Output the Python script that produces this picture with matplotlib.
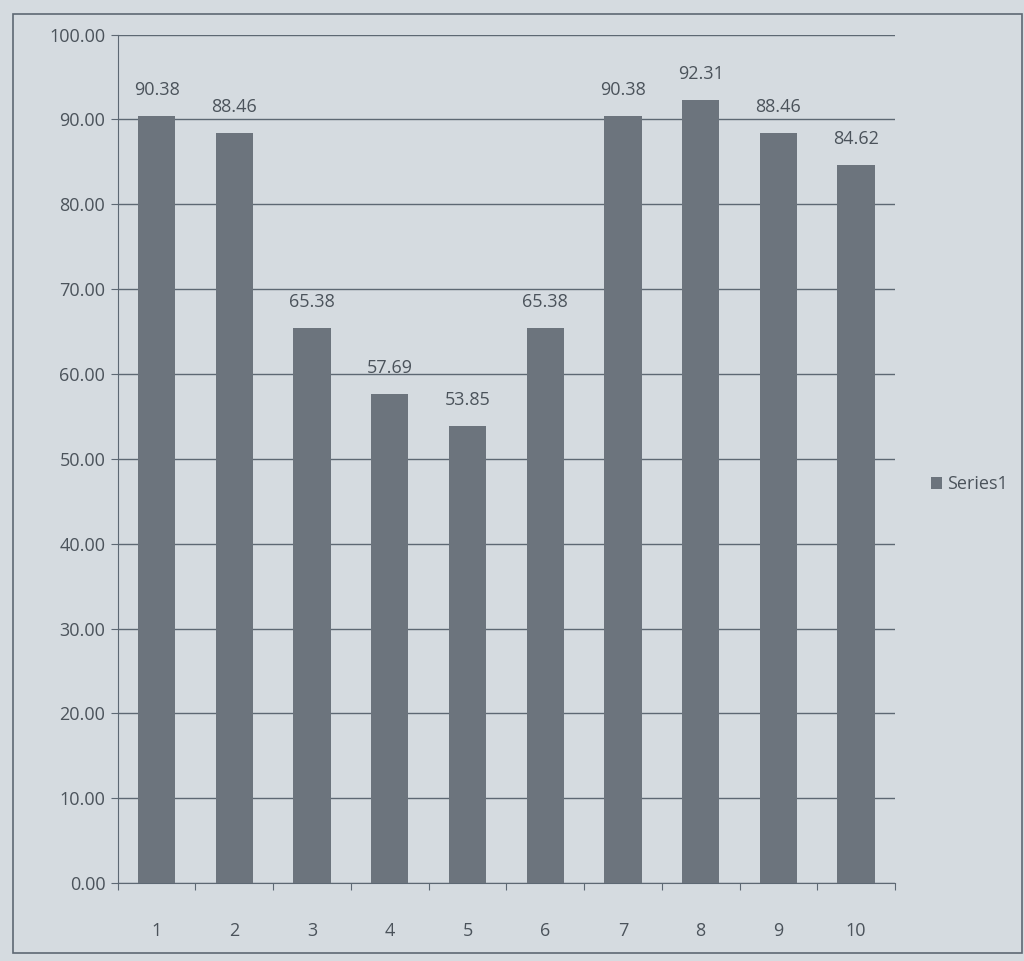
import matplotlib
matplotlib.use("Agg")
import matplotlib.pyplot as plt
import numpy as np

# 値
categories = ["1", "2", "3", "4", "5", "6", "7", "8", "9", "10"]
values = [90.38, 88.46, 65.38, 57.69, 53.85, 65.38, 90.38, 92.31, 88.46, 84.62]
y_ticks = [0, 10, 20, 30, 40, 50, 60, 70, 80, 90, 100]

bg = "#d5dbe0"
bar_color = "#6c747d"
text_color = "#4b535b"
line_color = "#5d6873"

plt.rcParams["font.family"] = ["Open Sans", "DejaVu Sans"]

fig = plt.figure(figsize=(10.24, 9.61), dpi=100, facecolor=bg)

# 外枠
border = plt.Rectangle((0.013, 0.008), 0.985, 0.977, transform=fig.transFigure,
                       fill=False, edgecolor=line_color, linewidth=1.2)
fig.add_artist(border)

ax = fig.add_axes([0.115, 0.081, 0.759, 0.883])
ax.set_facecolor(bg)

x = np.arange(len(categories))
ax.bar(x, values, width=0.48, color=bar_color, label="Series1", zorder=3)

# データラベル
for xi, v in zip(x, values):
    ax.text(xi, v + 2.0, f"{v:.2f}", ha="center", va="bottom",
            fontsize=13, color=text_color)

ax.set_ylim(0, 100)
ax.set_xlim(-0.5, len(categories) - 0.5)
ax.set_yticks(y_ticks)
ax.set_yticklabels([f"{t:.2f}" for t in y_ticks])
ax.yaxis.grid(True, color=line_color, linewidth=1.0, zorder=0)

# カテゴリ間の目盛り
ax.set_xticks(np.arange(-0.5, len(categories), 1.0), minor=False)
ax.set_xticklabels([])
ax.set_xticks(x, minor=True)
ax.set_xticklabels(categories, minor=True)
ax.tick_params(axis="x", which="major", length=5, color=line_color, direction="out")
ax.tick_params(axis="x", which="minor", length=0, pad=28, labelsize=13, labelcolor=text_color)
ax.tick_params(axis="y", length=5, color=line_color, labelsize=13, labelcolor=text_color, pad=4)

for side in ["top", "right"]:
    ax.spines[side].set_visible(False)
ax.spines["left"].set_color(line_color)
ax.spines["bottom"].set_color(line_color)

ax.legend(loc="center left", bbox_to_anchor=(1.042, 0.47), frameon=False,
          fontsize=13, labelcolor=text_color, handlelength=0.6, handleheight=0.6,
          handletextpad=0.3, borderaxespad=0.0, borderpad=0.2)

fig.savefig("out.png", dpi=100, facecolor=bg)
